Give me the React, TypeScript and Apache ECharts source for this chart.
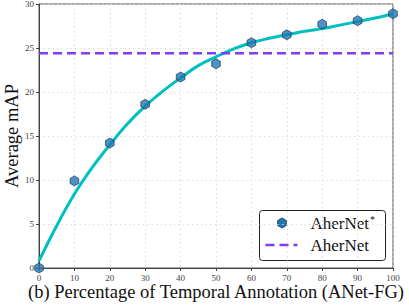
import React, { useEffect, useRef } from "react";
import * as echarts from "echarts";

const xTicks = [0, 10, 20, 30, 40, 50, 60, 70, 80, 90, 100];
const aherStarX = [0, 10, 20, 30, 40, 50, 60, 70, 80, 90, 100];
const aherStarY = [0.0, 9.9, 14.2, 18.6, 21.7, 23.2, 25.6, 26.5, 27.7, 28.1, 28.9];
const fitX = [0, 5, 10, 15, 20, 25, 30, 35, 40, 45, 50, 55, 60, 65, 70, 75, 80, 85, 90, 95, 100];
const fitY = [0.8, 4.8, 8.4, 11.4, 14.0, 16.4, 18.4, 20.1, 21.6, 23.0, 24.0, 24.9, 25.6, 26.1, 26.5, 26.9, 27.2, 27.6, 28.0, 28.4, 28.9];
const aherNetValue = 24.4;
const legendNames = ["AherNet", "AherNet"];

const HEX = "path://M0,-1 L0.866,-0.5 L0.866,0.5 L0,1 L-0.866,0.5 L-0.866,-0.5 Z";
const FONT = "'Liberation Serif', 'Times New Roman', serif";
const CYAN = "#00BFBF";
const PURPLE = "#7B3FF5";
const BLUE = "#1F77B4";
const EDGE = "#1b2a44";

function hexPoints(cx: number, cy: number, r: number) {
  const pts: number[][] = [];
  for (let k = 0; k < 6; k++) {
    const a = (Math.PI / 180) * (90 + 60 * k);
    pts.push([cx + r * Math.cos(a), cy - r * Math.sin(a)]);
  }
  return pts;
}

export default function App() {
  const ref = useRef<HTMLDivElement>(null);
  useEffect(() => {
    if (!ref.current) return;
    const chart = echarts.init(ref.current, undefined, { renderer: "svg" });
    chart.setOption({
      animation: false,
      backgroundColor: "#ffffff",
      grid: {
        left: 39, right: 16, top: 4, bottom: 37,
        containLabel: false, outerBoundsMode: "none",
        show: true, borderColor: "#555", borderWidth: 1, backgroundColor: "transparent",
      },
      xAxis: {
        type: "value", min: 0, max: 100, interval: 10,
        name: "(b) Percentage of Temporal Annotation (ANet-FG)",
        nameLocation: "middle", nameGap: 14, nameMoveOverlap: false,
        nameTextStyle: { fontFamily: FONT, fontSize: 18.5, color: "#111" },
        axisLine: { show: true, lineStyle: { color: "#444", width: 1 } },
        axisTick: { show: true, length: 3, lineStyle: { color: "#444" } },
        axisLabel: { fontFamily: FONT, fontSize: 9, color: "#444", margin: 5 },
        splitLine: { show: true, lineStyle: { color: "#ddd", type: [1.5, 3], width: 1 } },
      },
      yAxis: {
        type: "value", min: 0, max: 30, interval: 5,
        name: "Average mAP",
        nameLocation: "middle", nameGap: 18, nameMoveOverlap: false,
        nameTextStyle: { fontFamily: FONT, fontSize: 18.5, color: "#111" },
        axisLine: { show: true, lineStyle: { color: "#444", width: 1 } },
        axisTick: { show: true, length: 3, lineStyle: { color: "#444" } },
        axisLabel: { fontFamily: FONT, fontSize: 9, color: "#444", margin: 5 },
        splitLine: { show: true, lineStyle: { color: "#ddd", type: [1.5, 3], width: 1 } },
      },
      graphic: [
        {
          type: "group", left: 259, top: 210, z: 100,
          children: [
            { type: "rect", shape: { x: 0, y: 0, width: 126, height: 50, r: 3 },
              style: { fill: "#fff", stroke: "#222", lineWidth: 1 } },
            { type: "polygon", shape: { points: hexPoints(22.5, 12.5, 5) },
              style: { fill: BLUE, stroke: EDGE, lineWidth: 0.8 } },
            { type: "text", x: 51, y: 12.5,
              style: { text: legendNames[0] + "{sup|*}", fontFamily: FONT, fontSize: 17, fill: "#111",
                verticalAlign: "middle", align: "left",
                rich: { sup: { fontFamily: FONT, fontSize: 10, fill: "#111", verticalAlign: "top", padding: [0, 0, 8, 1] } } } },
            { type: "line", shape: { x1: 6, y1: 34.5, x2: 38, y2: 34.5 },
              style: { stroke: PURPLE, lineWidth: 2.6, lineDash: [9, 5] } },
            { type: "text", x: 51, y: 34.5,
              style: { text: legendNames[1], fontFamily: FONT, fontSize: 17, fill: "#111",
                verticalAlign: "middle", align: "left" } },
          ],
        },
      ],
      series: [
        {
          name: "fit", type: "line", smooth: 0.4, symbol: "none",
          data: fitX.map((x, i) => [x, fitY[i]]),
          lineStyle: { color: CYAN, width: 3 }, z: 2,
        },
        {
          name: "AherNet", type: "line", symbol: "none",
          data: [[0, aherNetValue], [100, aherNetValue]],
          lineStyle: { color: PURPLE, width: 2.6, type: [9, 5] },
          itemStyle: { color: PURPLE }, z: 3,
        },
        {
          name: "AherNet*", type: "scatter",
          data: aherStarX.map((x, i) => [x, aherStarY[i]]),
          symbol: HEX, symbolSize: 10, symbolKeepAspect: true,
          itemStyle: { color: BLUE, borderColor: EDGE, borderWidth: 0.8 }, z: 4,
        },
      ],
    });
    return () => chart.dispose();
  }, []);
  return <div ref={ref} style={{ position: "absolute", left: 0, top: 0, width: 409, height: 305 }} />;
}
